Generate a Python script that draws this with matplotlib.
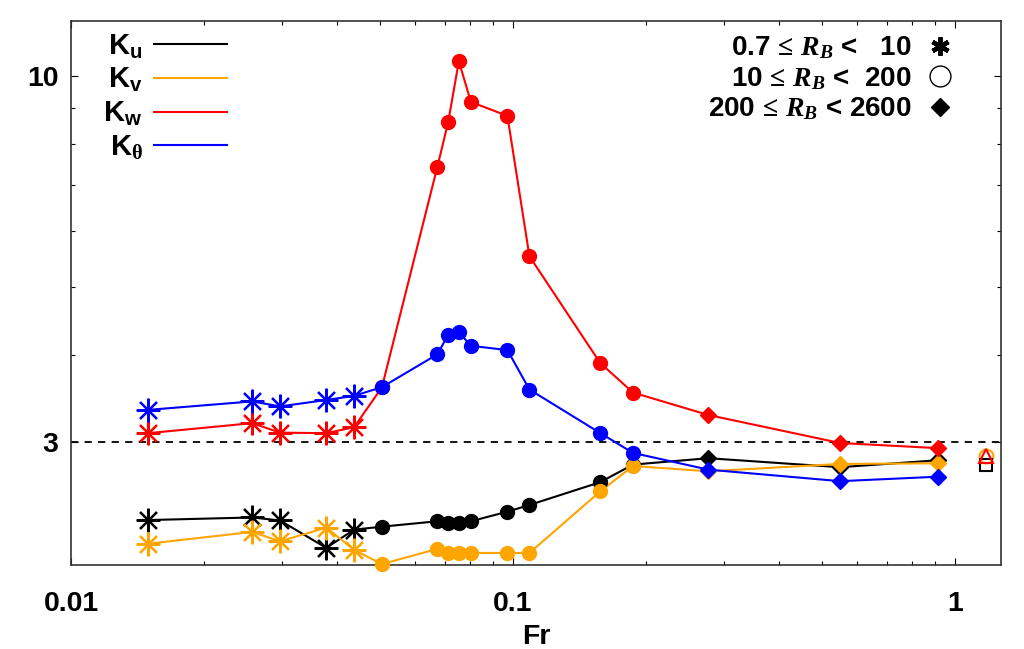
import numpy as np
import matplotlib
matplotlib.use("Agg")
import matplotlib.pyplot as plt
from matplotlib.lines import Line2D

# ---------------- data ----------------
# Froude number, split by buoyancy Reynolds number range
fr_low = [0.0149, 0.0257, 0.0297, 0.0378, 0.0437]            # 0.7 <= R_B < 10
fr_mid = [0.0505, 0.0674, 0.0713, 0.0754, 0.0803, 0.0971,
          0.1089, 0.1574, 0.1868]                            # 10 <= R_B < 200
fr_high = [0.2766, 0.5493, 0.9138]                           # 200 <= R_B < 2600

k_u = [2.319, 2.339, 2.316, 2.116, 2.247,
       2.269, 2.310, 2.299, 2.299, 2.310, 2.384, 2.437, 2.627, 2.784,
       2.843, 2.760, 2.824]
k_v = [2.145, 2.230, 2.162, 2.262, 2.102,
       2.006, 2.109, 2.081, 2.081, 2.081, 2.081, 2.081, 2.548, 2.771,
       2.723, 2.790, 2.796]
k_w = [3.087, 3.191, 3.093, 3.087, 3.149,
       3.59, 7.42, 8.59, 10.51, 9.19, 8.78, 5.53, 3.891, 3.529,
       3.278, 2.989, 2.939]
k_th = [3.333, 3.428, 3.372, 3.444, 3.491,
        3.593, 4.002, 4.266, 4.305, 4.117, 4.059, 3.565, 3.089, 2.893,
        2.738, 2.636, 2.675]

# extra reference points at the right edge
fr_ref = 1.173
k_ref_u = 2.777
k_ref_v = 2.862
k_ref_w = 2.862

series_names = [r'$\mathbf{K}_\mathbf{u}$', r'$\mathbf{K}_\mathbf{v}$',
                r'$\mathbf{K}_\mathbf{w}$', r'$\mathbf{K}_\mathrm{\theta}$']
series_colors = ['black', '#ffa500', '#ff0000', '#0000ff']
rb_labels = ['0.7$\\,\\leq\\,R_B$ <   10', '10$\\,\\leq\\,R_B$ <  200',
             '200$\\,\\leq\\,R_B$ < 2600']

# ---------------- style ----------------
plt.rcParams['font.family'] = ['Liberation Sans', 'DejaVu Sans']
plt.rcParams['font.weight'] = 'bold'
plt.rcParams['mathtext.fontset'] = 'custom'
plt.rcParams['mathtext.rm'] = 'Liberation Serif'
plt.rcParams['mathtext.it'] = 'Liberation Serif:italic'
plt.rcParams['mathtext.bf'] = 'Liberation Sans:bold'

fig = plt.figure(figsize=(10.24, 6.49), dpi=100)
ax = fig.add_axes([71 / 1024, 1 - 565 / 649, 930 / 1024, 544 / 649])

fr_all = fr_low + fr_mid + fr_high
n1, n2 = len(fr_low), len(fr_low) + len(fr_mid)

ax.axhline(3, color='black', ls=(0, (4, 3.5)), lw=1.3, zorder=1)

for k, c in zip([k_u, k_v, k_w, k_th], series_colors):
    ax.plot(fr_all, k, color=c, lw=1.5, zorder=2)
    ax.plot(fr_low, k[:n1], ls='none', marker=(8, 2, 0), ms=17, mew=1.6,
            color=c, zorder=3, clip_on=False)
    ax.plot(fr_mid, k[n1:n2], ls='none', marker='o', ms=10, color=c,
            zorder=3, clip_on=False)
    ax.plot(fr_high, k[n2:], ls='none', marker='D', ms=8, color=c,
            zorder=3, clip_on=False)

ax.plot([fr_ref], [k_ref_v], ls='none', marker='o', ms=10, mfc='none',
        mec='#ffa500', mew=1.5, zorder=4)
ax.plot([fr_ref], [k_ref_u], ls='none', marker='s', ms=8.5, mfc='none',
        mec='black', mew=1.5, zorder=4)
ax.plot([fr_ref], [k_ref_w], ls='none', marker='^', ms=10, mfc='none',
        mec='#ff0000', mew=1.5, zorder=5)

ax.set_xscale('log')
ax.set_yscale('log')
ax.set_xlim(0.01, 1.27)
ax.set_ylim(2, 12)

ax.set_xticks([0.01, 0.1, 1])
ax.set_xticklabels(['0.01', '0.1', '1'])
ax.set_xticks([m * d for d in [0.01, 0.1] for m in range(2, 10)], minor=True)
ax.set_yticks([3, 10])
ax.set_yticklabels(['3', '10'])
ax.set_yticks([4, 5, 6, 7, 8, 9], minor=True)
ax.set_yticklabels([], minor=True)
ax.set_xticklabels([], minor=True)

ax.tick_params(which='both', direction='in', top=True, right=True,
               labelsize=20.5, width=0.8)
ax.tick_params(which='major', length=5)
ax.tick_params(which='minor', length=3)
ax.tick_params(axis='x', which='major', pad=19)
ax.tick_params(axis='y', which='major', pad=9)
for s in ax.spines.values():
    s.set_linewidth(1.2)
    s.set_color('#333333')

ax.set_xlabel('Fr', fontsize=20.5, fontweight='bold', labelpad=5)

# left key: label then line sample
h1 = [Line2D([], [], color=c, lw=1.5) for c in series_colors]
leg1 = ax.legend(h1, series_names, loc='upper right',
                 bbox_to_anchor=(0.168, 0.979), frameon=False,
                 markerfirst=False, fontsize=21, handlelength=2.5,
                 handletextpad=0.4, labelspacing=0.19, borderpad=0,
                 borderaxespad=0)
ax.add_artist(leg1)

# right key: Reynolds number ranges and marker shapes
h2 = [Line2D([], [], ls='none', marker=(6, 2, 0), ms=13, mew=3.2, color='black'),
      Line2D([], [], ls='none', marker='o', ms=15, mfc='white', mec='black', mew=1),
      Line2D([], [], ls='none', marker='D', ms=9.5, color='black')]
ax.legend(h2, rb_labels, loc='upper right', bbox_to_anchor=(0.949, 0.975),
          frameon=False, markerfirst=False, fontsize=20, handlelength=1.0,
          handletextpad=0.5, labelspacing=0.13, borderpad=0, borderaxespad=0)

fig.savefig('out.png', dpi=100)
